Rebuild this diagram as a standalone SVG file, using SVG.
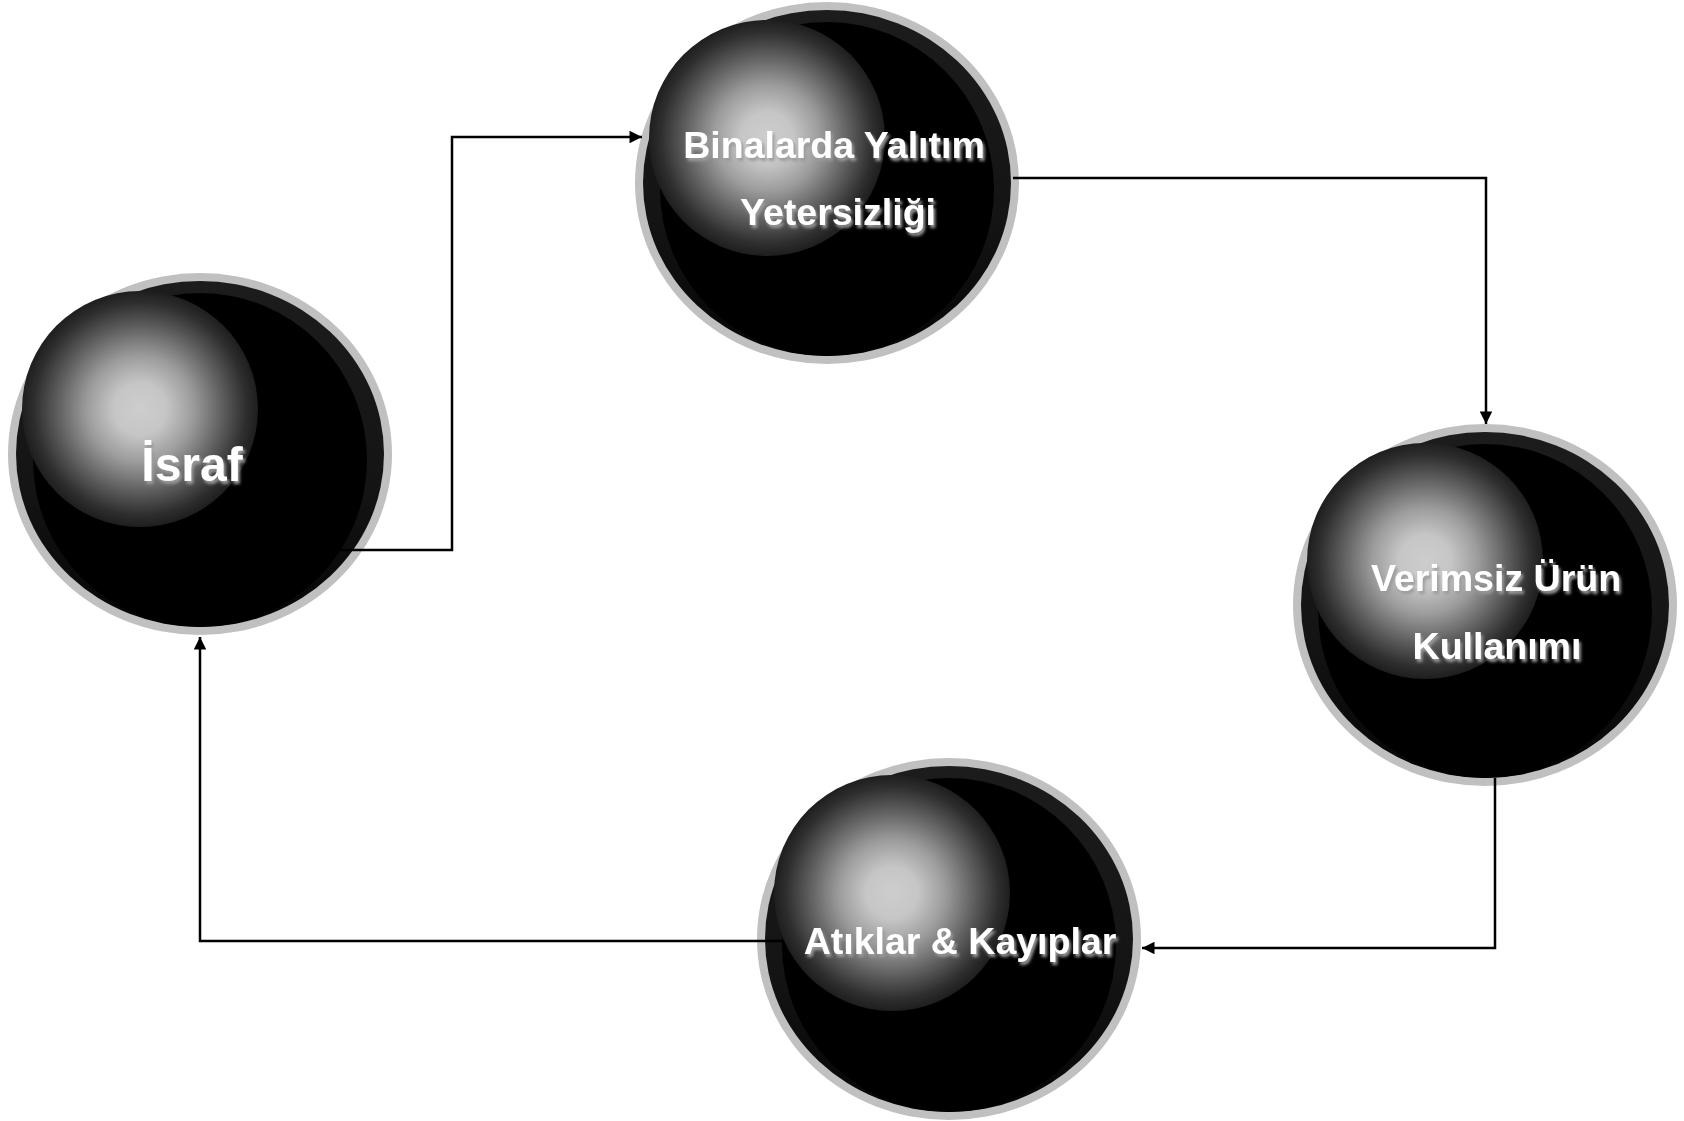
<svg xmlns="http://www.w3.org/2000/svg" width="1684" height="1121" viewBox="0 0 1684 1121">
<style>
.ring{fill:#c0c0c0}
.band{fill:url(#bandg)}
.core{fill:#000}
.hl{fill:url(#hlg)}
.lbl{font-family:"Liberation Sans",Arial,sans-serif;font-weight:bold;fill:#fff;text-anchor:middle;filter:url(#sh)}
.conn{fill:none;stroke:#000;stroke-width:2.5}
</style>
<defs>
<linearGradient id="bandg" x1="0" y1="0" x2="0" y2="1">
<stop offset="0" stop-color="#1c1c1c"/>
<stop offset="0.6" stop-color="#141414"/>
<stop offset="1" stop-color="#050505"/>
</linearGradient>
<radialGradient id="hlg" cx="0.5" cy="0.5" r="0.5">
<stop offset="0" stop-color="#cdcdcd"/>
<stop offset="0.22" stop-color="#c6c6c6"/>
<stop offset="0.45" stop-color="#9c9c9c"/>
<stop offset="0.7" stop-color="#5e5e5e"/>
<stop offset="0.9" stop-color="#2e2e2e"/>
<stop offset="1" stop-color="#1e1e1e"/>
</radialGradient>
<filter id="sh" x="-10%" y="-30%" width="120%" height="160%">
<feGaussianBlur in="SourceAlpha" stdDeviation="1.8" result="b"/>
<feOffset dx="2" dy="3" result="o"/>
<feFlood flood-color="#9a9a9a"/>
<feComposite in2="o" operator="in" result="s"/>
<feMerge><feMergeNode in="s"/><feMergeNode in="SourceGraphic"/></feMerge>
</filter>
<marker id="ah" viewBox="0 0 10 10" refX="10" refY="5" markerWidth="5.5" markerHeight="5" markerUnits="strokeWidth" orient="auto">
<path d="M0,0 L10,5 L0,10 z" fill="#000"/>
</marker>
</defs>
<rect width="1684" height="1121" fill="#fff"/>

<g id="node-israf">
<ellipse class="ring" cx="200" cy="454" rx="192" ry="181"/>
<ellipse class="band" cx="200" cy="454" rx="184" ry="173"/>
<ellipse class="core" cx="200" cy="460" rx="167" ry="167"/>
<circle class="hl" cx="140" cy="409" r="118"/>
<text class="lbl" x="192" y="481" font-size="48">İsraf</text>
</g>

<g id="node-binalarda">
<ellipse class="ring" cx="827" cy="183" rx="192" ry="181"/>
<ellipse class="band" cx="827" cy="183" rx="184" ry="173"/>
<ellipse class="core" cx="827" cy="189" rx="167" ry="167"/>
<circle class="hl" cx="767" cy="138" r="118"/>
<text class="lbl" x="834" y="158" font-size="37.5">Binalarda Yalıtım</text>
<text class="lbl" x="838" y="225" font-size="37.5">Yetersizliği</text>
</g>

<g id="node-verimsiz">
<ellipse class="ring" cx="1485" cy="605" rx="192" ry="181"/>
<ellipse class="band" cx="1485" cy="605" rx="184" ry="173"/>
<ellipse class="core" cx="1485" cy="611" rx="167" ry="167"/>
<circle class="hl" cx="1425" cy="561" r="118"/>
<text class="lbl" x="1496" y="591" font-size="37.5">Verimsiz Ürün</text>
<text class="lbl" x="1497" y="659" font-size="37.5">Kullanımı</text>
</g>

<g id="node-atiklar">
<ellipse class="ring" cx="949" cy="939" rx="192" ry="181"/>
<ellipse class="band" cx="949" cy="939" rx="184" ry="173"/>
<ellipse class="core" cx="949" cy="945" rx="167" ry="167"/>
<circle class="hl" cx="892" cy="893" r="118"/>
<text class="lbl" x="960" y="954" font-size="37.5">Atıklar &amp; Kayıplar</text>
</g>

<g id="connectors">
<polyline class="conn" points="327,550 452,550 452,137 642,137" marker-end="url(#ah)"/>
<polyline class="conn" points="1013,178 1486,178 1486,424" marker-end="url(#ah)"/>
<polyline class="conn" points="1495,778 1495,948 1142,948" marker-end="url(#ah)"/>
<polyline class="conn" points="783,941 200,941 200,637" marker-end="url(#ah)"/>
</g>
</svg>
